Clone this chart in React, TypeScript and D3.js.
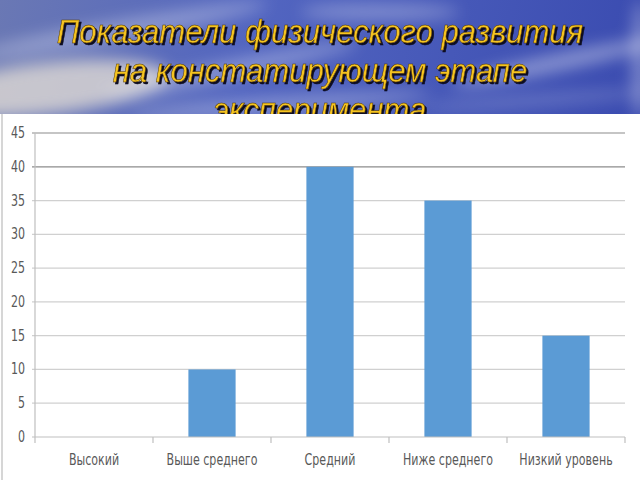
import { useEffect } from "react";
import * as d3 from "d3";

// Chart data
const categories = ["Высокий", "Выше среднего", "Средний", "Ниже среднего", "Низкий уровень"];
const values = [0, 10, 40, 35, 15];
const yTicks = [0, 5, 10, 15, 20, 25, 30, 35, 40, 45];
const titleLines = ["Показатели физического развития", "на констатирующем этапе", "эксперимента"];

const W = 640;
const H = 480;
const plot = { left: 35, right: 625, top: 133, bottom: 437 };
const labelFont = "'DejaVu Sans Condensed', 'DejaVu Sans', sans-serif";
const squeeze = 0.82; // narrow the condensed font to a Calibri-like width

export default function App() {
  useEffect(() => {
    document.body.style.margin = "0";
  }, []);

  const x = d3.scaleBand<string>().domain(categories).range([plot.left, plot.right]).paddingInner(0.6).paddingOuter(0.3);
  const y = d3.scaleLinear().domain([0, 45]).range([plot.bottom, plot.top]);
  const step = x.step();
  const boundaries = d3.range(categories.length + 1).map(i => plot.left + i * step);

  return (
    <svg width={W} height={H} style={{ display: "block" }}>
      <defs>
        <linearGradient id="sky" x1="0" y1="0" x2="1" y2="0.2">
          <stop offset="0%" stopColor="#6a78b4" />
          <stop offset="40%" stopColor="#5265c0" />
          <stop offset="100%" stopColor="#3a4bb0" />
        </linearGradient>
        <filter id="blur" x="-50%" y="-50%" width="200%" height="200%">
          <feGaussianBlur stdDeviation="8" />
        </filter>
        <filter id="shadow" x="-10%" y="-30%" width="120%" height="160%">
          <feDropShadow dx="2" dy="2" stdDeviation="0.6" floodColor="#0d0d20" floodOpacity="1" />
        </filter>
      </defs>

      {/* sky background */}
      <rect width={W} height={H} fill="url(#sky)" />
      <g filter="url(#blur)">
        <ellipse cx={50} cy={88} rx={120} ry={26} fill="#e8e2d6" opacity={0.75} transform="rotate(-6 50 88)" />
        <ellipse cx={120} cy={30} rx={150} ry={10} fill="#ffffff" opacity={0.3} transform="rotate(-10 120 30)" />
        <ellipse cx={230} cy={70} rx={130} ry={9} fill="#ffffff" opacity={0.3} transform="rotate(-12 230 70)" />
        <ellipse cx={280} cy={105} rx={150} ry={8} fill="#ffffff" opacity={0.3} transform="rotate(-4 280 105)" />
        <ellipse cx={380} cy={12} rx={80} ry={8} fill="#ffffff" opacity={0.3} />
        <ellipse cx={560} cy={62} rx={110} ry={8} fill="#ffffff" opacity={0.4} transform="rotate(-12 560 62)" />
        <ellipse cx={540} cy={100} rx={120} ry={6} fill="#ffffff" opacity={0.2} transform="rotate(-4 540 100)" />
        <ellipse cx={640} cy={60} rx={8} ry={60} fill="#ffffff" opacity={0.35} />
      </g>

      {/* title */}
      <g fontFamily="'Liberation Sans', Arial, sans-serif" fontStyle="italic" fontSize={34}
        textAnchor="middle" fill="#f5c420" stroke="#4a3200" strokeWidth={0.5} filter="url(#shadow)">
        {titleLines.map((t, i) => (
          <text key={i} transform={`translate(${W / 2},${43 + i * 39}) scale(0.915,1)`}>{t}</text>
        ))}
      </g>

      {/* chart area */}
      <rect x={0} y={114} width={W} height={H - 114} fill="#ffffff" />
      <line x1={2} x2={2} y1={114} y2={H} stroke="#c8c8c8" strokeWidth={1.5} />

      {/* gridlines */}
      {yTicks.filter(t => t > 0).map(t => (
        <line key={t} x1={plot.left - 3} x2={plot.right} y1={y(t)} y2={y(t)}
          stroke={t >= 40 ? "#8c8c8c" : "#d0d0d0"} strokeWidth={1.2} />
      ))}

      {/* bars */}
      {categories.map((c, i) => (
        <rect key={c} x={x(c)} y={y(values[i])} width={x.bandwidth()} height={y(0) - y(values[i])} fill="#5b9bd5" />
      ))}

      {/* axes */}
      <line x1={plot.left} x2={plot.left} y1={plot.top} y2={plot.bottom} stroke="#bfbfbf" strokeWidth={1.2} />
      <line x1={plot.left - 3} x2={plot.right} y1={plot.bottom} y2={plot.bottom} stroke="#bfbfbf" strokeWidth={1.2} />
      {boundaries.map((b, i) => (
        <line key={i} x1={b} x2={b} y1={plot.bottom} y2={plot.bottom + 6} stroke="#bfbfbf" strokeWidth={1.2} />
      ))}

      {/* y tick labels */}
      <g fontFamily={labelFont} fontSize={15} fill="#595959" textAnchor="end">
        {yTicks.map(t => (
          <text key={t} transform={`translate(25,${y(t) + 5}) scale(${squeeze},1)`}>{t}</text>
        ))}
      </g>

      {/* category labels */}
      <g fontFamily={labelFont} fontSize={15} fill="#595959" textAnchor="middle">
        {categories.map(c => (
          <text key={c} transform={`translate(${(x(c) ?? 0) + x.bandwidth() / 2},465) scale(${squeeze},1)`}>{c}</text>
        ))}
      </g>
    </svg>
  );
}
